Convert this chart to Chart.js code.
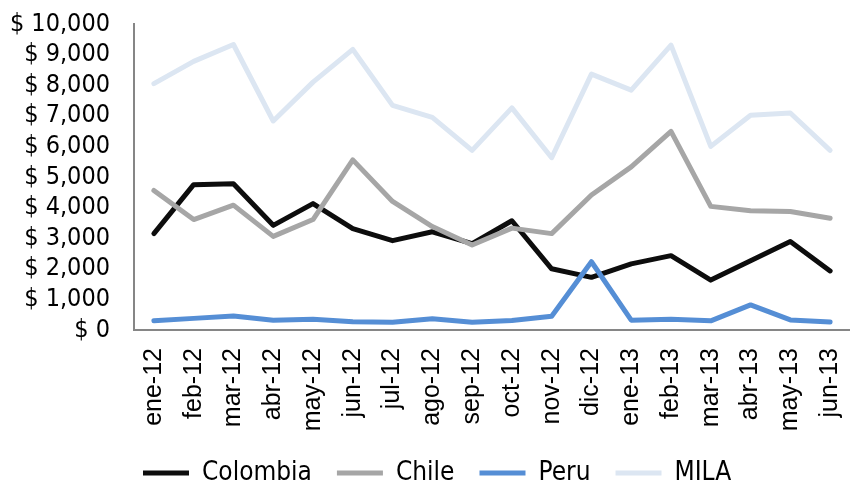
<!DOCTYPE html>
<html>
<head>
<meta charset="utf-8">
<script src="https://cdn.jsdelivr.net/npm/chart.js@4/dist/chart.umd.min.js"></script>
<style>
  html, body { margin: 0; padding: 0; background: #ffffff; }
  #wrap { width: 850px; height: 484px; position: relative; }
</style>
</head>
<body>
<div id="wrap"><canvas id="c"></canvas></div>
<script>
const categories = ["ene-12","feb-12","mar-12","abr-12","may-12","jun-12","jul-12","ago-12","sep-12","oct-12","nov-12","dic-12","ene-13","feb-13","mar-13","abr-13","may-13","jun-13"];
const colombia = [3150, 4750, 4780, 3420, 4130, 3310, 2920, 3210, 2820, 3570, 2000, 1720, 2160, 2430, 1630, 2260, 2890, 1930];
const chile    = [4560, 3610, 4080, 3060, 3610, 5560, 4200, 3380, 2780, 3330, 3150, 4410, 5330, 6490, 4040, 3900, 3870, 3650];
const peru     = [300, 380, 460, 320, 350, 270, 250, 370, 250, 310, 450, 2230, 320, 350, 300, 820, 330, 260];
const mila     = [8050, 8780, 9330, 6830, 8100, 9170, 7340, 6950, 5870, 7260, 5630, 8360, 7840, 9310, 6000, 7020, 7090, 5870];
const seriesNames = ["Colombia", "Chile", "Peru", "MILA"];
const yTicks = { min: 0, max: 10000, step: 1000 };

const colors = ["#0d0d0d", "#a6a6a6", "#558ed5", "#dce6f2"];
const seriesData = [colombia, chile, peru, mila];

const CHART_BOTTOM = 330;
const condFont = "'DejaVu Sans Condensed', 'DejaVu Sans', sans-serif";

const legendMover = {
  id: 'legendMover',
  beforeLayout(chart) {
    const lg = chart.legend;
    if (lg && !lg.__patched) {
      const origFit = lg.fit;
      lg.fit = function () {
        origFit.call(this);
        this.height = 1;
      };
      lg.__patched = true;
    }
  },
  afterLayout(chart) {
    const lg = chart.legend;
    if (!lg) return;
    lg.left = 118;
    lg.right = 850;
    lg.top = 435;
    lg.bottom = 484;
    lg.height = 49;
    lg.width = 732;
  }
};

new Chart(document.getElementById('c'), {
  type: 'line',
  data: {
    labels: categories,
    datasets: seriesNames.map((name, i) => ({
      label: name,
      data: seriesData[i],
      borderColor: colors[i],
      backgroundColor: colors[i],
      borderWidth: 5,
      pointRadius: 0,
      pointHoverRadius: 0,
      tension: 0,
      borderCapStyle: 'round',
      borderJoinStyle: 'round',
      fill: false,
      order: 3 - i
    }))
  },
  options: {
    responsive: true,
    maintainAspectRatio: false,
    animation: false,
    events: [],
    layout: { padding: { left: 10, right: -4, top: 24, bottom: 0 } },
    plugins: {
      tooltip: { enabled: false },
      legend: {
        position: 'bottom',
        align: 'start',
        labels: {
          boxWidth: 46,
          boxHeight: 5,
          padding: 25,
          color: '#000000',
          font: { family: condFont, size: 26 },
          generateLabels(chart) {
            const items = Chart.defaults.plugins.legend.labels.generateLabels(chart);
            const byIdx = items.slice().sort((a, b) => a.datasetIndex - b.datasetIndex);
            return byIdx.map(it => Object.assign({}, it, { lineWidth: 0, fillStyle: it.strokeStyle }));
          }
        }
      }
    },
    scales: {
      x: {
        type: 'category',
        offset: true,
        grid: { display: false, drawTicks: false },
        border: { display: true, color: '#868686', width: 2 },
        ticks: {
          color: '#000000',
          font: { family: "'Liberation Sans', Arial, sans-serif", size: 25 },
          autoSkip: false,
          minRotation: 90,
          maxRotation: 90,
          padding: 18
        },
        afterFit(scale) {
          const lh = scale.chart.legend ? scale.chart.legend.height : 0;
          scale.height = 484 - CHART_BOTTOM - lh;
          scale.paddingLeft = 0;
          scale.paddingRight = 0;
        }
      },
      y: {
        min: yTicks.min,
        max: yTicks.max,
        grid: { display: false, drawTicks: false },
        border: { display: true, color: '#868686', width: 2 },
        ticks: {
          stepSize: yTicks.step,
          autoSkip: false,
          color: '#000000',
          font: { family: condFont, size: 25 },
          padding: 24,
          callback: v => '$ ' + Number(v).toLocaleString('en-US')
        },
        afterFit(scale) {
          scale.width = 124;
          scale.paddingTop = 0;
          scale.paddingBottom = 0;
        }
      }
    }
  },
  plugins: [legendMover]
});
</script>
</body>
</html>
